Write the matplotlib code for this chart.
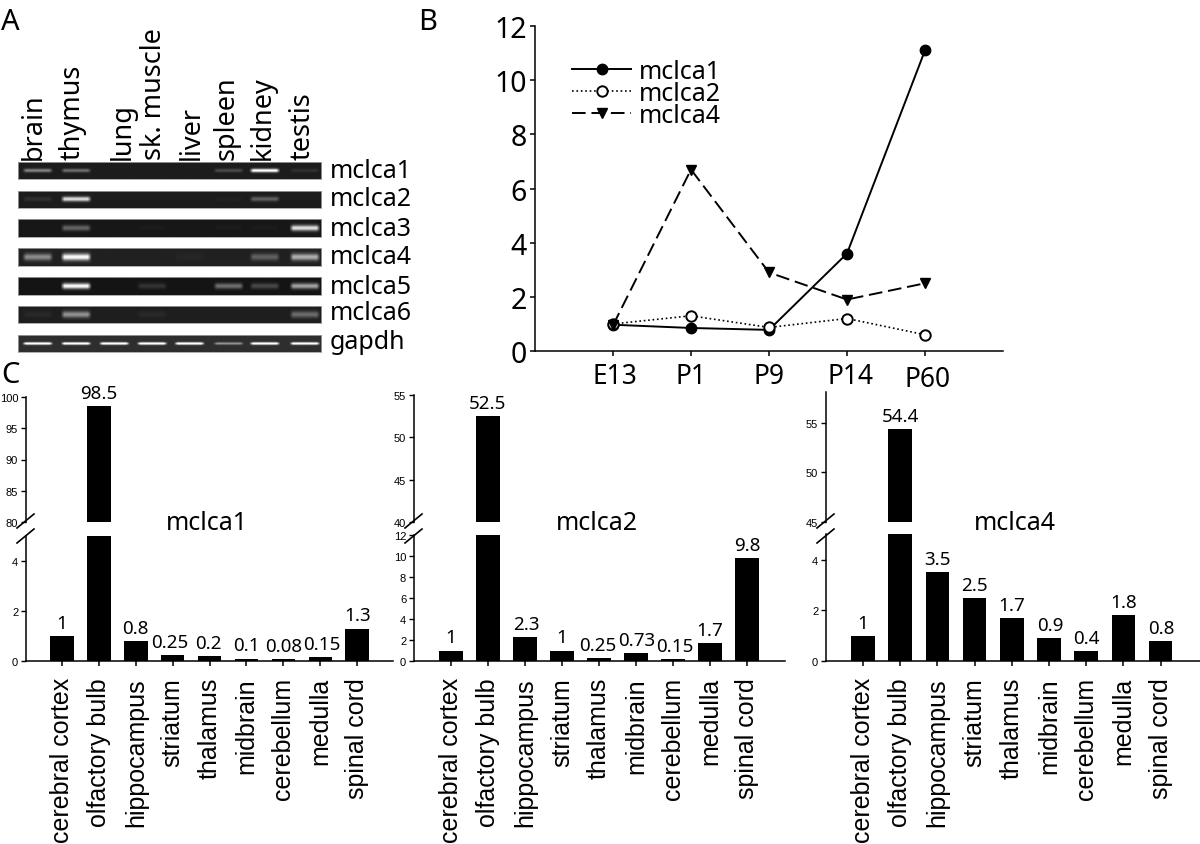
#!/usr/bin/env python3
import numpy as np
import matplotlib
matplotlib.use("Agg")
import matplotlib.pyplot as plt
from matplotlib.lines import Line2D
from matplotlib.transforms import ScaledTranslation

plt.rcParams["font.family"] = "Noto Sans"

W, H = 1200, 845

######################### data #########################
tissues_a = ["brain", "thymus", "lung", "sk. muscle", "liver", "spleen", "kidney", "testis"]
genes_a = ["mclca1", "mclca2", "mclca3", "mclca4", "mclca5", "mclca6", "gapdh"]
band_mclca1 = [0.40, 0.32, 0.00, 0.00, 0.00, 0.18, 0.90, 0.08]
band_mclca2 = [0.08, 0.80, 0.00, 0.00, 0.00, 0.02, 0.28, 0.00]
band_mclca3 = [0.00, 0.30, 0.00, 0.02, 0.00, 0.02, 0.02, 0.78]
band_mclca4 = [0.42, 0.85, 0.00, 0.00, 0.02, 0.00, 0.25, 0.55]
band_mclca5 = [0.00, 0.90, 0.00, 0.12, 0.00, 0.35, 0.20, 0.55]
band_mclca6 = [0.04, 0.45, 0.00, 0.04, 0.00, 0.00, 0.00, 0.30]
band_gapdh = [0.95, 0.95, 0.95, 0.95, 0.95, 0.40, 0.95, 0.95]
gel_background = [0.11, 0.11, 0.09, 0.13, 0.08, 0.12, 0.18]
gel_band_sigma = [1.3, 1.5, 2.0, 2.4, 2.0, 2.3, 0.9]

stages = ["E13", "P1", "P9", "P14", "P60"]
dev_mclca1 = [0.97, 0.85, 0.78, 3.6, 11.1]
dev_mclca2 = [1.0, 1.3, 0.87, 1.2, 0.6]
dev_mclca4 = [0.95, 6.7, 2.9, 1.9, 2.5]

regions = ["cerebral cortex", "olfactory bulb", "hippocampus", "striatum", "thalamus",
           "midbrain", "cerebellum", "medulla", "spinal cord"]
region_mclca1 = [1, 98.5, 0.8, 0.25, 0.2, 0.1, 0.08, 0.15, 1.3]
region_mclca2 = [1, 52.5, 2.3, 1, 0.25, 0.73, 0.15, 1.7, 9.8]
region_mclca4 = [1, 54.4, 3.5, 2.5, 1.7, 0.9, 0.4, 1.8, 0.8]
text_mclca1 = ["1", "98.5", "0.8", "0.25", "0.2", "0.1", "0.08", "0.15", "1.3"]
text_mclca2 = ["1", "52.5", "2.3", "1", "0.25", "0.73", "0.15", "1.7", "9.8"]
text_mclca4 = ["1", "54.4", "3.5", "2.5", "1.7", "0.9", "0.4", "1.8", "0.8"]

######################### layout (pixels) #########################
gel_x = (17.5, 321)
gel_rows = [(163.3, 180.3), (191.7, 209), (220, 238), (249, 267), (278, 296), (307, 324), (336, 353)]
lane_x = [36.7, 75, 113, 150.7, 188, 227, 263, 303]
lane_label_x = [34, 73, 123, 154, 192, 227, 263, 303]
gel_label_y = [172, 200, 229, 257, 287, 314, 343]

fig = plt.figure(figsize=(W / 100, H / 100), dpi=100)


def px_axes(x0, ytop, x1, ybot, **kw):
    return fig.add_axes([x0 / W, 1 - ybot / H, (x1 - x0) / W, (ybot - ytop) / H], **kw)


def px_text(x, y, s, **kw):
    return fig.text(x / W, 1 - y / H, s, **kw)


def px_line(x0, y0, x1, y1, lw=1.2):
    fig.add_artist(Line2D([x0 / W, x1 / W], [1 - y0 / H, 1 - y1 / H], color="black", lw=lw,
                          transform=fig.transFigure))


######################### panel A #########################
bands = [band_mclca1, band_mclca2, band_mclca3, band_mclca4, band_mclca5, band_mclca6, band_gapdh]
for row in range(len(genes_a)):
    y0, y1 = gel_rows[row]
    nx, ny = int(gel_x[1] - gel_x[0]), int(round(y1 - y0))
    xs = np.arange(nx) + gel_x[0]
    ys = np.arange(ny) - ny / 2 + 0.5
    img = np.full((ny, nx), gel_background[row], dtype=float)
    for lane, level in zip(lane_x, bands[row]):
        across = np.clip((15.5 - np.abs(xs - lane)) / 4.0, 0, 1)
        down = np.exp(-(ys / gel_band_sigma[row]) ** 2 / 2)
        img += level * np.outer(down, across)
    ax = px_axes(gel_x[0], y0, gel_x[1], y1)
    ax.imshow(img, cmap="gray", vmin=0, vmax=1, aspect="auto", interpolation="bilinear")
    ax.set_xticks([])
    ax.set_yticks([])
    for sp in ax.spines.values():
        sp.set_color("#a0a0a0")
        sp.set_linewidth(0.6)
    px_text(330, gel_label_y[row], genes_a[row], fontsize=18, va="center", ha="left")

for x, name in zip(lane_label_x, tissues_a):
    px_text(x, 160, name, fontsize=19.5, rotation=90, ha="center", va="bottom")

px_text(1, 22, "A", fontsize=21, va="center")
px_text(418, 22, "B", fontsize=21, va="center")
px_text(1, 376, "C", fontsize=21, va="center")

######################### panel B #########################
ax = px_axes(535, 27, 1003, 352)
ax.plot(range(5), dev_mclca1, "-", color="black", lw=1.4, marker="o", ms=7.5, label="mclca1")
ax.plot(range(5), dev_mclca2, ":", color="black", lw=1.2, marker="o", ms=7.5, mfc="white",
        mew=1.4, label="mclca2")
ax.plot(range(5), dev_mclca4, color="black", lw=1.4, ls=(0, (7, 3)), marker="v", ms=7.5, label="mclca4")
ax.set_xlim(-1, 5)
ax.set_ylim(0, 12)
ax.set_xticks(range(5))
ax.set_xticklabels(stages, fontsize=19)
ax.set_yticks(range(0, 13, 2))
ax.tick_params(axis="y", labelsize=20.5, length=3.6, width=1.1, pad=2)
ax.tick_params(axis="x", length=3.6, width=1.1, pad=4)
for lab, dx, dy in zip(ax.get_xticklabels(), [2, 0, 0, 4, 3], [0, 0, 0, 0, -3]):
    lab.set_transform(lab.get_transform() + ScaledTranslation(dx / 100, dy / 100, fig.dpi_scale_trans))
ax.spines["top"].set_visible(False)
ax.spines["right"].set_visible(False)
ax.spines["left"].set_linewidth(1.1)
ax.spines["bottom"].set_linewidth(1.1)
ax.legend(loc="upper left", bbox_to_anchor=(37 / 468, 1 - 33 / 325), frameon=False, fontsize=18,
          handlelength=2.36, handletextpad=0.3, labelspacing=-0.12, borderpad=0, borderaxespad=0,
          numpoints=1)

######################### panel C #########################


def broken_bars(values, labels, x0, x1, first, step, low_top_px, low_top, up_top_px, up_lim,
                low_ticks, up_ticks, title, title_x, dx_labels):
    y_zero, y_gap = 662, 523
    xlim = ((x0 - first) / step, (x1 - first) / step)
    pos = np.arange(len(values))
    low = px_axes(x0, low_top_px, x1, y_zero)
    up = px_axes(x0, up_top_px, x1, y_gap)
    for a in (low, up):
        a.bar(pos, values, width=23.5 / step, color="black")
        a.set_xlim(*xlim)
        a.spines["top"].set_visible(False)
        a.spines["right"].set_visible(False)
        a.spines["left"].set_linewidth(1.1)
        a.tick_params(axis="y", labelsize=8, length=3.6, width=1.0, pad=2)
        a.patch.set_alpha(0)
    low.set_ylim(0, low_top)
    up.set_ylim(*up_lim)
    low.set_yticks(low_ticks)
    up.set_yticks(up_ticks)
    low.spines["bottom"].set_linewidth(1.1)
    up.spines["bottom"].set_visible(False)
    up.set_xticks([])
    low.set_xticks(pos)
    low.set_xticklabels(regions, rotation=90, fontsize=18, family="Liberation Sans", ha="center", va="top")
    low.tick_params(axis="x", length=3.6, width=1.1, pad=8)
    for lab in low.get_yticklabels() + up.get_yticklabels():
        lab.set_family("Liberation Sans")
    for i, (v, s) in enumerate(zip(values, labels)):
        a = up if v > up_lim[0] else low
        a.annotate(s, (i, v), xytext=(dx_labels[i] * 0.72, 3), textcoords="offset points", ha="center",
                   va="bottom", fontsize=13.5, annotation_clip=False)
    px_line(x0 - 9, 529, x0 + 8, 515)
    px_line(x0 - 9, 544, x0 + 8, 530)
    px_text(title_x, 524, title, fontsize=18, ha="center", va="center")


broken_bars(region_mclca1, text_mclca1, 26, 393, 62, 36.9, 537, 5.02, 398, (80, 100),
            [0, 2, 4], [80, 85, 90, 95, 100], "mclca1", 207, [0, 0, 0, -3, -1, 0, 0, 2, 0])
broken_bars(region_mclca2, text_mclca2, 414, 785, 451, 37, 536, 12.03, 396, (40, 55),
            [0, 2, 4, 6, 8, 10, 12], [40, 45, 50, 55], "mclca2", 597, [0, 0, 1, 0, -1, 1, 2, 0, 0])
broken_bars(region_mclca4, text_mclca4, 826, 1200, 863, 37.2, 535, 5.02, 393, (45, 58.1),
            [0, 2, 4], [45, 50, 55], "mclca4", 1015, [0, 0, 0, 0, 0, 1, 0, 0, 1])

fig.savefig("out.png", dpi=100)
